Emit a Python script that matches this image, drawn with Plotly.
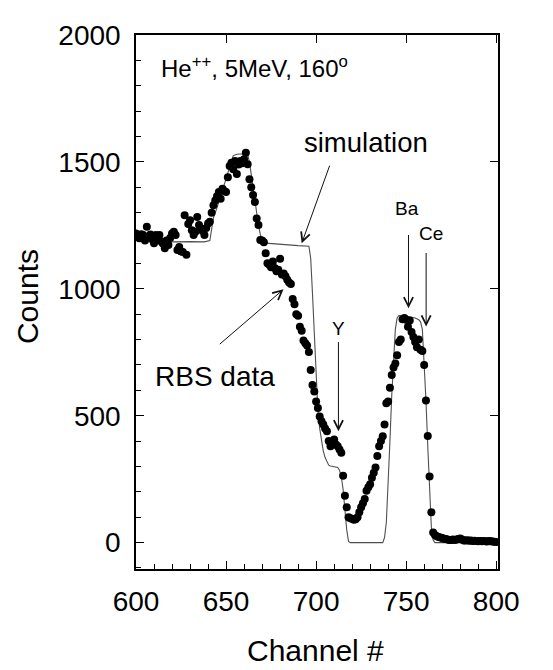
import plotly.graph_objects as go

# RBS measured data (channel, counts)
rbs_channels = list(range(600, 801))
rbs_counts = [
    1218, 1205, 1199, 1215, 1212, 1190, 1244, 1205, 1214, 1195,   # 600-609
    1179, 1212, 1200, 1212, 1186, 1178, 1160, 1190, 1173, 1200,   # 610-619
    1218, 1225, 1212, 1153, 1165, 1147, 1145, 1290, 1134, 1255,   # 620-629
    1270, 1231, 1212, 1225, 1283, 1251, 1238, 1228, 1212, 1240,   # 630-639
    1257, 1264, 1300, 1329, 1348, 1365, 1381, 1355, 1394, 1385,   # 640-649
    1381, 1440, 1484, 1497, 1471, 1504, 1452, 1490, 1504, 1495,   # 650-659
    1510, 1536, 1491, 1432, 1400, 1370, 1342, 1277, 1251, 1192,   # 660-669
    1190, 1183, 1140, 1101, 1095, 1085, 1108, 1082, 1069, 1075,   # 670-679
    1118, 1056, 1060, 1049, 1036, 1025, 1019, 960, 939, 900,      # 680-689
    894, 850, 835, 796, 785, 777, 751, 680, 621, 595,             # 690-699
    556, 530, 497, 478, 465, 450, 439, 400, 380, 393,             # 700-709
    406, 387, 380, 367, 354, 263, 185, 139, 100, 96,              # 710-719
    94, 90, 92, 100, 120, 139, 155, 172, 204, 218,                # 720-729
    230, 256, 275, 296, 341, 380, 400, 419, 465, 549,             # 730-739
    556, 610, 660, 690, 706, 738, 790, 800, 880, 885,             # 740-749
    878, 850, 875, 830, 810, 790, 770, 800, 760, 755,             # 750-759
    700, 560, 420, 260, 120, 40, 30, 25, 22, 20,                  # 760-769
    18, 15, 14, 12, 10, 10, 12, 10, 12, 14,                       # 770-779
    16, 12, 8, 8, 9, 7, 8, 6, 7, 6,                               # 780-789
    5, 6, 5, 6, 5, 4, 6, 5, 4, 3,                                 # 790-799
    2,                                                            # 800
]

# Simulated spectrum (channel, counts)
sim_channels = [600, 610, 620, 630, 638, 641, 642, 643, 645, 648, 651, 653, 654,
                656, 660, 662, 663, 664, 665, 666, 667, 668, 669, 670, 672, 680,
                690, 696, 697, 698, 699, 700, 701, 702, 703, 704, 705, 706, 707,
                708, 710, 712, 713, 714, 715, 716, 717, 718, 719, 737, 738, 739,
                740, 741, 742, 743, 744, 745, 746, 750, 755, 757, 758, 759, 760,
                761, 762, 763, 764, 765, 766, 800]
sim_counts = [1190, 1188, 1185, 1186, 1185, 1190, 1230, 1280, 1320, 1390, 1460, 1510, 1525,
              1530, 1532, 1528, 1500, 1450, 1400, 1340, 1300, 1250, 1215, 1195, 1180, 1175,
              1170, 1168, 1120, 980, 820, 640, 520, 450, 400, 360, 335, 318, 305,
              302, 300, 296, 285, 260, 210, 130, 50, 5, 0, 0, 20, 80,
              220, 400, 580, 740, 840, 885, 895, 893, 885, 878, 870, 840, 720,
              560, 380, 180, 60, 10, 0, 0]

x_ticks = [600, 650, 700, 750, 800]
y_ticks = [0, 500, 1000, 1500, 2000]
x_range = [600, 801]
y_range = [-104, 2000]

FONT = "Liberation Sans, Arial, sans-serif"

fig = go.Figure()
fig.add_trace(go.Scatter(x=sim_channels, y=sim_counts, mode="lines",
                         line=dict(color="#505050", width=1.1), showlegend=False))
fig.add_trace(go.Scatter(x=rbs_channels, y=rbs_counts, mode="markers",
                         marker=dict(color="black", size=8), showlegend=False))
# invisible trace so that the mirrored (top/right) axes are drawn
fig.add_trace(go.Scatter(x=[x_range[0]], y=[y_range[0]], xaxis="x2", yaxis="y2",
                         mode="markers", marker=dict(opacity=0), showlegend=False,
                         hoverinfo="skip"))

tick_font = dict(family=FONT, size=28, color="black")
base = dict(showgrid=False, zeroline=False, showline=True, linecolor="black",
            linewidth=1.5, ticks="inside", ticklen=8, tickwidth=1.2, tickcolor="black")

fig.update_layout(
    xaxis=dict(range=x_range, tickvals=x_ticks, ticklabelstandoff=7, tickfont=tick_font,
               minor=dict(dtick=10, tick0=600, ticks="inside", ticklen=5,
                          tickcolor="black", tickwidth=1), **base),
    yaxis=dict(range=y_range, tickvals=y_ticks, ticklabelstandoff=8, tickfont=tick_font,
               minor=dict(dtick=100, tick0=0, ticks="inside", ticklen=5,
                          tickcolor="black", tickwidth=1), **base),
    xaxis2=dict(range=x_range, tickvals=x_ticks, overlaying="x", side="top",
                showticklabels=False, **base),
    yaxis2=dict(range=y_range, tickvals=y_ticks, overlaying="y", side="right",
                showticklabels=False, **base),
)

ann = []
def txt(x, y, s, size, xanchor="center"):
    ann.append(dict(x=x, y=y, xref="x", yref="y", text=s, showarrow=False,
                    xanchor=xanchor, yanchor="middle",
                    font=dict(family=FONT, size=size, color="black")))

def arrow(x0, y0, x1, y1):
    ann.append(dict(x=x1, y=y1, ax=x0, ay=y0, xref="x", yref="y", axref="x", ayref="y",
                    text="", showarrow=True, arrowhead=5, arrowsize=1.8,
                    arrowwidth=1, arrowcolor="#111111", standoff=0))

txt(613, 1873, "He<sup>++</sup>, 5MeV, 160<sup>o</sup>", 24, "left")
txt(692, 1575, "simulation", 27.5, "left")
txt(609.6, 655, "RBS data", 28, "left")
txt(712.4, 845, "Y", 19)
txt(750.4, 1316, "Ba", 19)
txt(763.7, 1217, "Ce", 19)

arrow(707.8, 1491, 692, 1179)
arrow(645.7, 777, 681.9, 998)
arrow(712.4, 796, 712.4, 439)
arrow(751.3, 1218, 751.3, 923)
arrow(761.1, 1147, 761.1, 851)

ann.append(dict(x=-0.30, y=0.51, xref="paper", yref="paper", text="Counts",
                showarrow=False, textangle=-90, xanchor="center", yanchor="middle",
                font=dict(family=FONT, size=30, color="black")))
ann.append(dict(x=0.497, y=-0.152, xref="paper", yref="paper", text="Channel #",
                showarrow=False, xanchor="center", yanchor="middle",
                font=dict(family=FONT, size=30, color="black")))

# the page body adds an 8px margin, so the figure is 8px smaller and shifted
fig.update_layout(width=545, height=662, margin=dict(l=128, r=55, t=20, b=101),
                  plot_bgcolor="white", paper_bgcolor="white", annotations=ann)

fig.write_html("out.html")
